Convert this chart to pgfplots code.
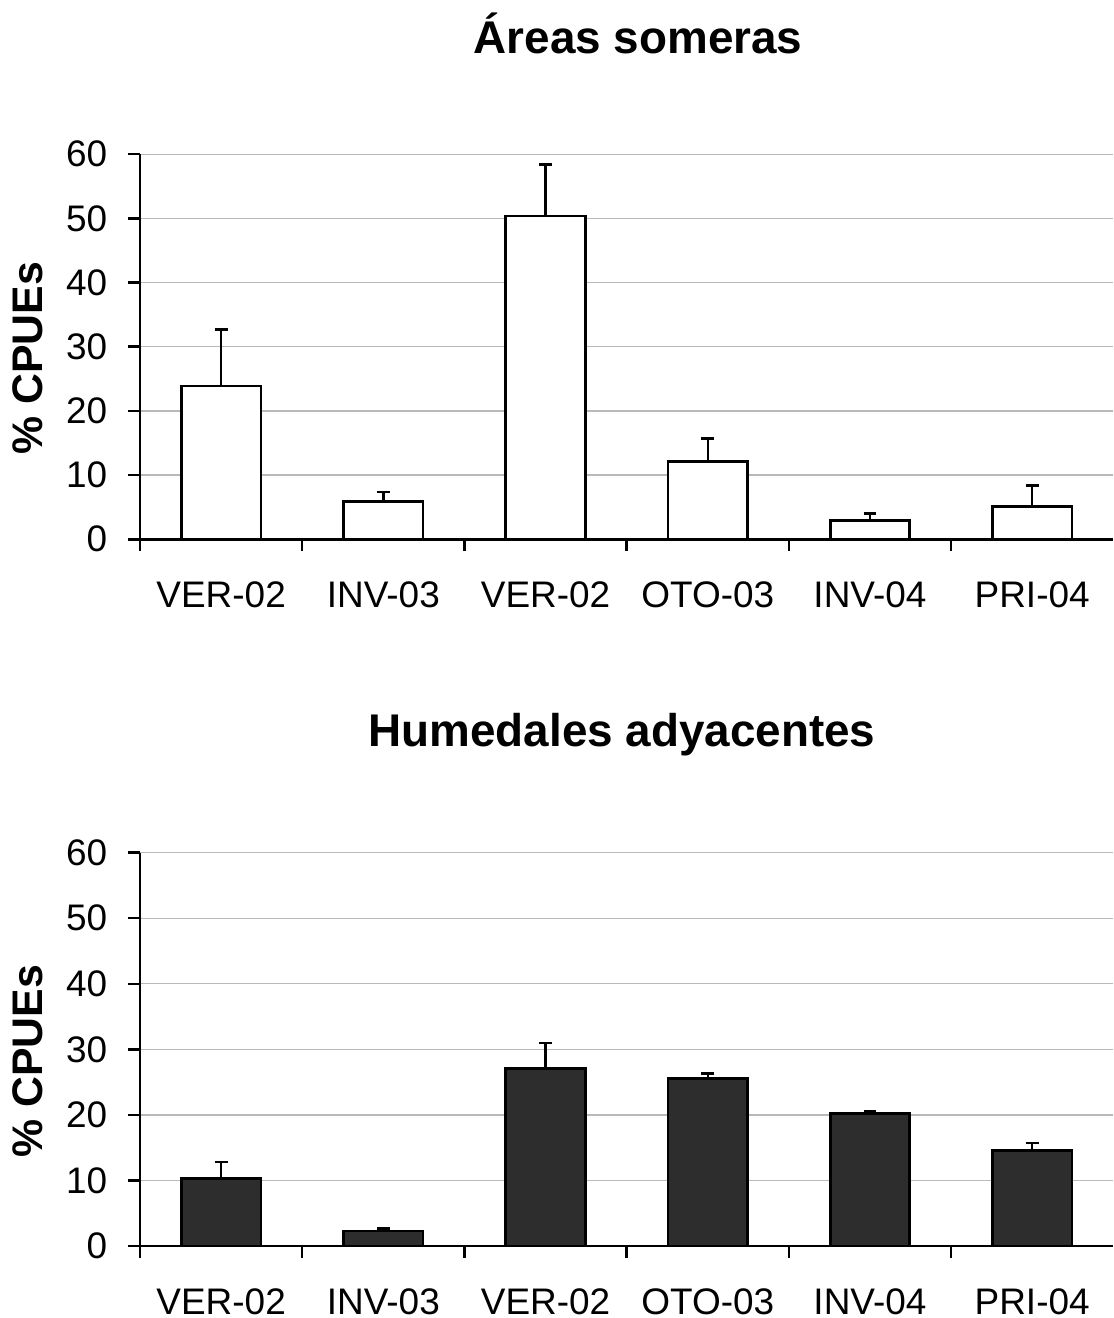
\documentclass[border=0pt]{standalone}
\usepackage{fontspec}
\setmainfont{Liberation Sans}
\usepackage{pgfplots}
\usepackage{pgfplotstable}
\pgfplotsset{compat=1.18}

\pgfplotstableread{
x y e
0 23.9 8.8
1 5.9 1.5
2 50.4 8.0
3 12.1 3.6
4 2.9 1.1
5 5.1 3.25
}\someras

\pgfplotstableread{
x y e
0 10.3 2.5
1 2.3 0.35
2 27.1 3.9
3 25.6 0.7
4 20.2 0.3
5 14.6 1.1
}\humedales

\definecolor{darkbar}{HTML}{2D2D2D}

\pgfplotsset{
  cpue/.style={
    scale only axis, width=350.3pt,
    xmin=-0.5, xmax=5.5, ymin=0, ymax=60,
    axis x line=bottom, axis y line=left,
    axis line style={-, line width=0.9pt},
    tick align=outside, major tick length=4.3pt,
    every tick/.style={black, line width=0.9pt},
    xtick={-0.5,0.5,1.5,2.5,3.5,4.5},
    xticklabels={VER-02,INV-03,VER-02,OTO-03,INV-04,PRI-04},
    xticklabel style={xshift=29.2pt, yshift=-7.5pt},
    ytick={0,10,20,30,40,50,60},
    yticklabel style={xshift=-4pt},
    ymajorgrids, grid style={gray!55, line width=0.45pt},
    tick label style={font=\fontsize{13.3}{16}\selectfont},
    /pgf/number format/assume math mode=true,
    ylabel={\% CPUEs},
    ylabel style={font=\bfseries\fontsize{15.4}{18}\selectfont, at={(rel axis cs:-0.115,0.47)}, anchor=center, rotate=0},
    clip=false,
  },
  barstyle/.style={
    ybar, bar width=0.49, draw=black, line width=0.95pt,
    error bars/y dir=plus, error bars/y explicit,
    error bars/error mark=-,
    error bars/error bar style={line width=0.85pt, black},
    error bars/error mark options={black, rotate=90, mark size=2.3pt, line width=0.85pt},
  },
}

\begin{document}
\begin{tikzpicture}
\useasboundingbox (-50.4pt,-280.3pt) rectangle (350.3pt,194.1pt);
\begin{axis}[cpue, height=138.6pt, at={(0pt,0pt)}, anchor=south west]
\addplot[barstyle, fill=white] table[x=x, y=y, y error=e] {\someras};
\end{axis}
\begin{axis}[cpue, height=141.6pt, at={(0pt,-254.4pt)}, anchor=south west]
\addplot[barstyle, fill=darkbar] table[x=x, y=y, y error=e] {\humedales};
\end{axis}
\node[anchor=base, font=\bfseries\fontsize{16.5}{19}\selectfont] at (179.3pt,175pt) {Áreas someras};
\node[anchor=base, font=\bfseries\fontsize{16.5}{19}\selectfont] at (173.5pt,-74.7pt) {Humedales adyacentes};
\end{tikzpicture}
\end{document}
